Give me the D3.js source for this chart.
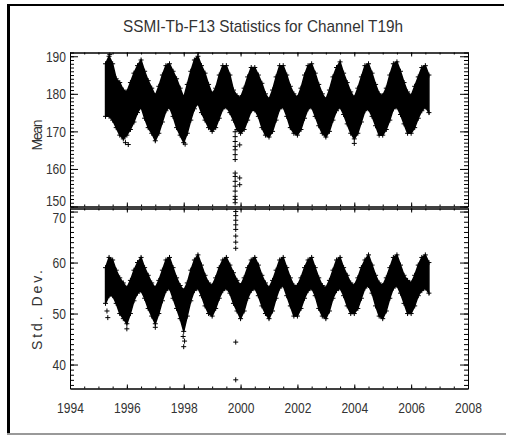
<!DOCTYPE html>
<html>
<head>
<meta charset="utf-8">
<script src="https://cdn.jsdelivr.net/npm/d3@7"></script>
<style>
  body { margin: 0; background: #fff; }
  svg text { font-family: "Liberation Sans Narrow", "Liberation Sans", sans-serif; fill: #333; }
</style>
</head>
<body>
<svg id="chart" width="507" height="436"></svg>
<script>
// samples every 1/8 year, starting April 1995
const sampleStart = 1995.25;
const sampleStep = 0.125;

// upper / lower edge of the Mean scatter band (K)
const meanHi = [
  188, 190, 188, 184, 183, 181,
  180.5, 183, 185.5, 187.5, 189, 186, 183.5, 181.5,
  179.5, 182, 185, 187.5, 188, 186, 184, 181.5,
  179, 182.5, 186, 189, 190, 187.5, 185.5, 182.5,
  180, 181.5, 185, 187.5, 187.5, 185, 181, 179.5,
  179, 181.5, 184.5, 187, 187, 185, 182.8, 180,
  178.5, 181, 184.5, 187.5, 187.5, 185, 182, 180,
  179, 181.5, 185, 187.5, 188, 185.5, 182.5, 180,
  178.5, 181, 184.5, 187, 188.5, 185.5, 183, 180.5,
  179, 181.5, 184.5, 187.5, 188, 185.5, 182.5, 180,
  179.5, 181.5, 185, 188, 188.5, 186, 183, 180.5,
  179.5, 182, 184.5, 187, 187.5, 185
];
const meanLo = [
  174, 174, 173, 171, 169, 168,
  169, 170.5, 172.5, 175, 176.5, 173.5, 171, 169.5,
  167.5, 169.5, 172.5, 175.5, 176.5, 174, 171, 169,
  167, 169.5, 173, 176, 177.5, 175, 173, 171,
  170, 171, 173.5, 176, 176.5, 175, 173, 170.5,
  169.5, 170.5, 173, 175.5, 175.7, 174, 171, 169,
  168.5, 170, 173, 176, 176.5, 174, 171, 169.5,
  169, 170.5, 173.5, 176, 176.5, 174, 171.5, 169.5,
  168.5, 170, 173, 175.5, 176.5, 174.5, 172, 169.5,
  168, 169.5, 172.5, 175.5, 176, 174, 171.5, 169,
  169, 170.5, 173, 176, 176.5, 174.5, 172, 169.5,
  169.5, 171, 173.5, 175.5, 176.5, 175
];

// upper / lower edge of the Std. Dev. scatter band
const stdHi = [
  59, 61, 60.5, 58.5, 57, 56,
  55, 56.5, 58.5, 60, 61, 59, 57.5, 56,
  55, 56.5, 58.5, 60.5, 61, 59, 57, 55.5,
  54.5, 56, 58.5, 60.5, 61.5, 59.5, 57.5, 56,
  55.5, 57, 59, 60.5, 61, 59.5, 58, 56.5,
  55.5, 57, 59, 60.5, 61, 59.5, 57.5, 56,
  55, 56.5, 58.5, 60.5, 61, 59, 57, 55.5,
  55.5, 57, 59, 60.5, 61, 59, 57, 55.5,
  55, 56.5, 58.5, 60.5, 61, 59, 57.5, 56,
  55.5, 57, 59, 60.5, 61.5, 59.5, 57.5, 56,
  55.5, 57, 59, 61, 61.5, 59.5, 57.5, 56.5,
  56, 57.5, 59.5, 61, 61.5, 60
];
const stdLo = [
  52, 53.5, 53.5, 52, 50, 49,
  48, 50, 52.5, 54, 54.5, 53, 51, 49.5,
  48, 50, 52.5, 54.5, 55, 53, 51, 49,
  46.5, 49.5, 52.5, 54.5, 55, 53.5, 51.5, 50,
  49.5, 51, 53, 54.5, 55, 54, 52, 50.5,
  49, 50.5, 53, 54.5, 55, 53.5, 51.5, 50,
  49, 50.5, 53, 55, 55.5, 53.5, 51.5, 49.5,
  49.5, 51, 53, 54.5, 55, 53.5, 51, 49.5,
  49, 50.5, 53, 54.5, 55, 53.5, 51.5, 50,
  50, 51, 53, 55, 55.5, 54, 51.5, 49.5,
  49, 50.5, 53, 55, 55.5, 54, 52, 50,
  50, 51.5, 53.5, 54.5, 55, 54
];

// stray points [year, value]
const meanOutliers = [
  [1999.81, 169.9], [1999.81, 168.6], [1999.81, 167.3], [1999.81, 166], [1999.81, 165.1],
  [1999.81, 163.8], [1999.81, 162.5], [1999.81, 158.9], [1999.81, 158], [1999.81, 156.7],
  [1999.81, 155.4], [1999.81, 154.1], [1999.81, 152.7], [1999.81, 151.9], [1999.81, 151],
  [1999.97, 166.4], [1999.97, 157.6], [1999.97, 155.8],
  [1995.95, 167], [1996.05, 166.5], [1998.05, 166.6], [2004.0, 166.8],
  [1995.4, 190.5], [1998.5, 191]
];
const stdOutliers = [
  [1999.83, 70], [1999.83, 69.2], [1999.83, 68.3], [1999.83, 67.4], [1999.83, 66.5],
  [1999.83, 65.2], [1999.83, 64], [1999.83, 62.8], [1999.83, 44.4], [1999.83, 37],
  [1998.0, 43.5], [1998.03, 44.6], [1997.98, 45.5], [1996.0, 47], [1997.0, 47.3],
  [1995.3, 50.5], [1995.33, 49.2]
];

const xMajor = [1994, 1996, 1998, 2000, 2002, 2004, 2006, 2008];
const meanTicks = [150, 160, 170, 180, 190];
const stdTicks = [40, 50, 60, 70];

const svg = d3.select('#chart');
const [left, right] = [70, 468];

const x = d3.scaleLinear().domain([1994, 2008]).range([left, right]);
const yMean = d3.scaleLinear().domain([150, 191]).range([206.5, 52.5]);
const yStd = d3.scaleLinear().domain([35.3, 70.6]).range([388.5, 208.5]);

// outer frame
svg.append('rect').attr('x', 7).attr('y', 4).attr('width', 3).attr('height', 431).attr('fill', '#000');
svg.append('rect').attr('x', 7).attr('y', 4).attr('width', 497).attr('height', 2).attr('fill', '#000');
svg.append('rect').attr('x', 7).attr('y', 433).attr('width', 499).attr('height', 2).attr('fill', '#999');

svg.append('text').attr('x', 263).attr('y', 32).attr('text-anchor', 'middle')
  .attr('font-size', 17).attr('textLength', 280).attr('lengthAdjust', 'spacingAndGlyphs')
  .text('SSMI-Tb-F13 Statistics for Channel T19h');

const plus = 'M-2.5,0h5M0,-2.5v5';
// narrow digits like the plotting package's vector font
const narrow = (sel) => sel.attr('font-size', 15)
  .attr('textLength', function() { return this.textContent.length * 6.7; })
  .attr('lengthAdjust', 'spacingAndGlyphs');

const panel = (y, hi, lo, outliers, ticks, minorFrom, minorTo, title, titleY, titleLen, showX) => {
  const [y0, y1] = y.range();
  const id = 'clip' + Math.round(y1);
  svg.append('clipPath').attr('id', id).append('rect')
    .attr('x', left).attr('y', y1).attr('width', right - left).attr('height', y0 - y1);
  const g = svg.append('g').attr('clip-path', `url(#${id})`);

  const rows = hi.map((h, i) => ({t: sampleStart + i * sampleStep, hi: h, lo: lo[i]}));
  g.append('path').datum(rows)
    .attr('d', d3.area().x(d => x(d.t)).y0(d => y(d.lo)).y1(d => y(d.hi)))
    .attr('fill', '#000').attr('stroke', '#000').attr('stroke-width', 1.5);
  const edges = rows.flatMap(d => [[d.t, d.hi], [d.t, d.lo]]).concat(outliers);
  g.selectAll('path.pt').data(edges).enter().append('path').attr('class', 'pt')
    .attr('transform', d => `translate(${x(d[0])},${y(d[1])})`)
    .attr('d', plus).attr('stroke', '#000').attr('stroke-width', 1).attr('fill', 'none');

  const minor = d3.range(minorFrom, minorTo + 1);
  const xMinor = d3.range(1994, 2008.01, 0.5);
  const style = (a) => {
    a.select('.domain').attr('stroke', '#000');
    a.selectAll('.tick line').attr('stroke', '#000');
    a.attr('font-family', null);
  };
  // minor ticks
  svg.append('g').attr('transform', `translate(${left},0)`)
    .call(d3.axisLeft(y).tickValues(minor).tickSizeInner(-4).tickSizeOuter(0).tickFormat('')).call(style);
  svg.append('g').attr('transform', `translate(${right},0)`)
    .call(d3.axisRight(y).tickValues(minor).tickSizeInner(-4).tickSizeOuter(0).tickFormat('')).call(style);
  svg.append('g').attr('transform', `translate(0,${y0})`)
    .call(d3.axisBottom(x).tickValues(xMinor).tickSizeInner(-2).tickSizeOuter(0).tickFormat('')).call(style);
  svg.append('g').attr('transform', `translate(0,${y1})`)
    .call(d3.axisTop(x).tickValues(xMinor).tickSizeInner(-2).tickSizeOuter(0).tickFormat('')).call(style);
  // major ticks
  const yl = svg.append('g').attr('transform', `translate(${left},0)`)
    .call(d3.axisLeft(y).tickValues(ticks).tickSizeInner(-8).tickSizeOuter(0).tickPadding(4)).call(style);
  yl.selectAll('text').attr('fill', '#333').call(narrow);
  svg.append('g').attr('transform', `translate(${right},0)`)
    .call(d3.axisRight(y).tickValues(ticks).tickSizeInner(-8).tickSizeOuter(0).tickFormat('')).call(style);
  if (showX) {
    const xb = svg.append('g').attr('transform', `translate(0,${y0})`)
      .call(d3.axisBottom(x).tickValues(xMajor).tickSizeInner(-4).tickSizeOuter(0).tickPadding(14).tickFormat(d3.format('d'))).call(style);
    xb.selectAll('text').attr('fill', '#333').call(narrow);
  } else {
    svg.append('g').attr('transform', `translate(0,${y0})`)
      .call(d3.axisBottom(x).tickValues(xMajor).tickSizeInner(-4).tickSizeOuter(0).tickFormat('')).call(style);
  }
  svg.append('g').attr('transform', `translate(0,${y1})`)
    .call(d3.axisTop(x).tickValues(xMajor).tickSizeInner(-4).tickSizeOuter(0).tickFormat('')).call(style);

  svg.append('text').attr('transform', `translate(42,${titleY}) rotate(-90)`)
    .attr('text-anchor', 'middle').attr('font-size', 14)
    .attr('textLength', titleLen).attr('lengthAdjust', 'spacing').text(title);
  return yl;
};

const ylMean = panel(yMean, meanHi, meanLo, meanOutliers, meanTicks, 150, 191, 'Mean', 135, 31, false);
const ylStd = panel(yStd, stdHi, stdLo, stdOutliers, stdTicks, 36, 70, 'Std. Dev.', 310, 80, true);
// the crowded labels at the join of the two panels
ylMean.selectAll('.tick').filter(d => d === 150).select('text').attr('dy', '-0.1em');
ylStd.selectAll('.tick').filter(d => d === 70).select('text').attr('dy', '0.7em');
</script>
</body>
</html>
